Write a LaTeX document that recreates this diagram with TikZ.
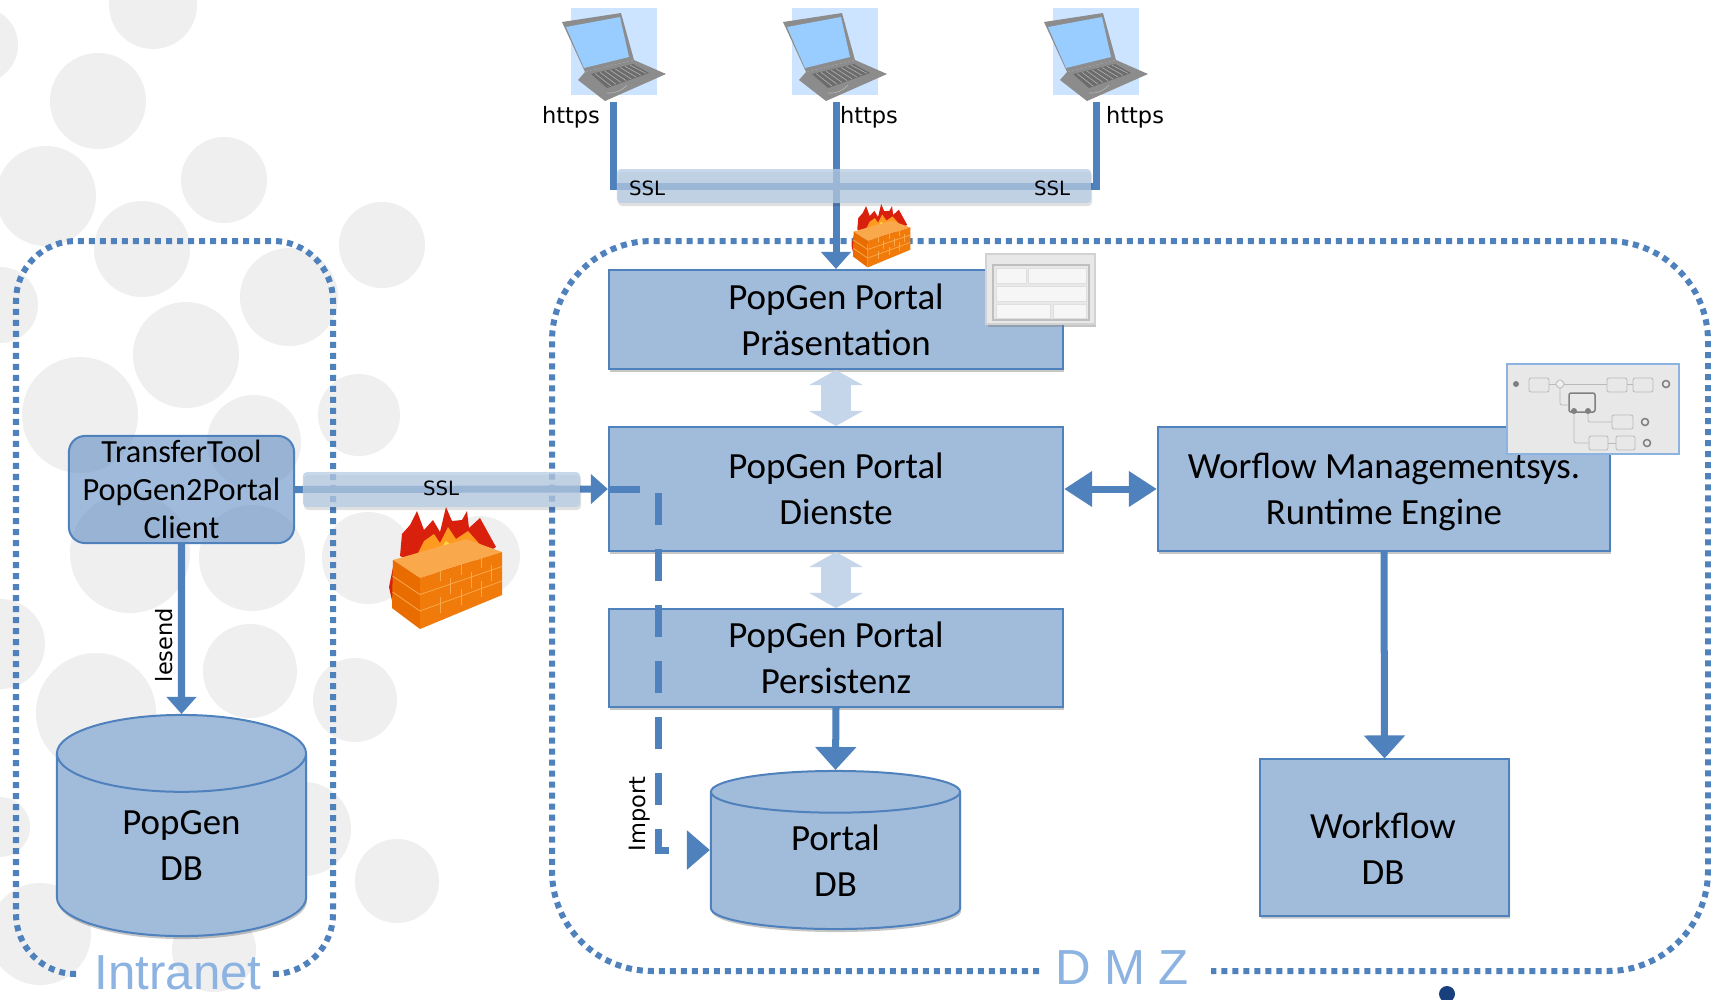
\documentclass[tikz,border=0pt]{standalone}
\usepackage{xcolor}
\usepackage{fontspec}
\setmainfont{Carlito}
\newfontfamily\tagfont{DejaVu Sans}
\newfontfamily\zonefont{Liberation Sans}
\usetikzlibrary{arrows.meta,shapes.geometric,shadows}
\definecolor{B0}{HTML}{4f81bd}
\definecolor{B1}{HTML}{a1bbdb}
\definecolor{B2}{HTML}{5f8cc3}
\definecolor{B3}{HTML}{c5d6ea}
\definecolor{B4}{HTML}{8db3e2}
\definecolor{B5}{HTML}{b8cde6}
\definecolor{D0}{HTML}{17407d}
\definecolor{G0}{HTML}{efefef}
\definecolor{G1}{HTML}{7f7f7f}
\definecolor{G2}{HTML}{e8e8e8}
\definecolor{L0}{HTML}{cce4ff}
\definecolor{L1}{HTML}{99ccff}
\definecolor{F0}{HTML}{f07a0a}
\definecolor{F1}{HTML}{e86c00}
\definecolor{F2}{HTML}{f9a94c}
\definecolor{F3}{HTML}{d8200c}
\definecolor{F4}{HTML}{ff9a20}
\definecolor{F5}{HTML}{ffd840}
\tikzset{
  softshadow/.style={drop shadow={shadow xshift=.01cm,shadow yshift=-.03cm,fill=black,opacity=.22}},
  layerbox/.style={draw=B0,line width=.02cm,fill=B1,minimum width=4.54cm,align=center,inner sep=0pt,font=\fontsize{10.5}{13}\selectfont,softshadow},
  clientbox/.style={draw=B0,line width=.02cm,fill=B2,fill opacity=.6,text opacity=1,rounded corners=.16cm,minimum width=2.25cm,minimum height=1.07cm,align=center,inner sep=0pt,font=\fontsize{9.2}{10.8}\selectfont},
  dbcyl/.style={draw=B0,line width=.02cm,fill=B1,shape=cylinder,shape border rotate=90,anchor=shape center,minimum width=2.49cm,align=center,inner sep=0pt,font=\fontsize{10.5}{13}\selectfont,softshadow},
  zone/.style={draw=B0,line width=.06cm,dash pattern=on .06cm off .05cm},
  conn/.style={draw=B0,line width=.07cm},
  connarr/.style={conn,-{Triangle[length=.23cm,width=.4cm]}},
  connarrsmall/.style={conn,-{Triangle[length=.17cm,width=.29cm]}},
  connboth/.style={conn,{Triangle[length=.28cm,width=.34cm]}-{Triangle[length=.28cm,width=.34cm]}},
  softarr/.style={draw=B3,line width=.3cm,{Triangle[length=.15cm,width=.53cm]}-{Triangle[length=.15cm,width=.53cm]}},
  sslband/.style={fill=B5,fill opacity=.76,rounded corners=.04cm,inner sep=0pt,drop shadow={shadow xshift=.01cm,shadow yshift=-.03cm,fill=black,opacity=.12}},
  tagtext/.style={font=\tagfont\fontsize{6.4}{8}\selectfont},
  ssltext/.style={font=\tagfont\fontsize{5.6}{7}\selectfont},
  zonetext/.style={text=B4,font=\zonefont\fontsize{14}{16}\selectfont},
  dbtext/.style={align=center,font=\fontsize{10.5}{13}\selectfont},
  flowline/.style={draw=G1!55,line width=.008cm,rounded corners=.02cm},
  pics/laptop/.style={code={
    \fill[L0] (0,0) rectangle (86,87);
    \fill[G1!90] (-9,14) -- (50,5) -- (63,52) -- (14,64) -- cycle;
    \fill[L1] (-5,19) -- (49,9) -- (58,49) -- (13,60) -- cycle;
    \fill[G1!90] (14,64) -- (63,52) -- (95,66) -- (34,93) -- (7,72) -- cycle;
    \fill[G1!85!black] (20,66) -- (62,56) -- (78,65) -- (36,80) -- cycle;
    \foreach \k in {0,...,7} {\draw[G1!60,line width=.006cm] (24+5*\k,65.5-1.2*\k) -- (40+5*\k,78-1.8*\k);}
    \draw[G1!55,line width=.006cm] (36,85) to[bend right=25] (56,77);
  }},
  pics/firewall/.style={code={
    \fill[F3] (12,49) -- (14,27) -- (22,18) -- (29,4) -- (36,23) -- (45,13) -- (52,25) -- (58,0) -- (64,14) -- (74,13) -- (79,4) -- (81,21) -- (92,11) -- (108,40) -- (60,70) -- cycle;
    \fill[F4] (28,50) -- (36,34) -- (46,27) -- (52,36) -- (60,20) -- (68,32) -- (80,24) -- (96,42) -- (50,62) -- cycle;
    \fill[F5] (50,46) -- (58,34) -- (66,40) -- (76,38) -- (82,44) -- (54,56) -- cycle;
    \fill[F3] (5,60) -- (1,80) -- (5,98) -- cycle;
    \fill[F2] (5,53) -- (78,32) -- (114,45) -- (32,71) -- cycle;
    \fill[F1] (5,53) -- (32,71) -- (32,122) -- (4,101) -- cycle;
    \fill[F0] (32,71) -- (114,45) -- (114,88) -- (32,122) -- cycle;
    \foreach \k in {1,2} {\draw[F2,line width=.008cm] (32,71+16.5*\k) -- (114,45+14.5*\k); \draw[F2,line width=.008cm] (4.5,53+16*\k) -- (32,71+16.5*\k);}
    \foreach \k in {1,2,3} {\draw[F2,line width=.008cm] (32+20.5*\k,64.5-6.5*\k) -- ++(0,16); \draw[F2,line width=.008cm] (42+20.5*\k,77.5-6.5*\k) -- ++(0,16); \draw[F2,line width=.008cm] (32+20.5*\k,98-8*\k) -- ++(0,16);}
  }}
}
\begin{document}
\begin{tikzpicture}[x=.01cm,y=-.01cm]%
\useasboundingbox (0,0) rectangle (1711,999);%
\clip (0,0) rectangle (1711,999);%
\fill[white] (0,0) rectangle (1711,999);%
\foreach \cx/\cy/\cr in {153/5/44,-20/45/38,98/101/48,46/196/50,224/180/43,142/249/48,382/245/43,289/297/49,186/355/53,0/305/38,80/415/58,254/442/47,359/415/41,130/553/60,252/558/53,368/558/46,480/556/40,0/644/45,96/713/60,250/671/47,355/700/42,203/768/53,304/829/47,143/871/53,397/881/42,40/934/51,214/950/42,0/827/30}%
  {\fill[G0] (\cx,\cy) circle (\cr);}%
\draw[zone,rounded corners=.6cm] (76,974) -| (16,241) -| (333,974) -- (278,974);%
\draw[zone,rounded corners=1cm] (1039,971) -| (552,241) -| (1708,971) -- (1211,971);%
\node[zonetext] (intranetlabel) at (178,973) {Intranet};%
\node[zonetext] (dmzlabel) at (1122,968) {D M Z};%
\fill[D0] (1447,994) circle (8);%
\pic at (571,8) {laptop};%
\pic at (792,8) {laptop};%
\pic at (1053,8) {laptop};%
\coordinate (portA) at (613,102);%
\coordinate (portB) at (836,102);%
\coordinate (portC) at (1096,102);%
\coordinate (busB) at (836,186);%
\node[tagtext] (httpsA) at (571,117) {https};%
\node[tagtext] (httpsB) at (869,117) {https};%
\node[tagtext] (httpsC) at (1135,117) {https};%
\node[layerbox,minimum height=.99cm] (praes) at (836,319.5) {PopGen Portal\\Pr\"asentation};%
\node[layerbox,minimum height=1.24cm] (dienste) at (836,489) {PopGen Portal\\Dienste};%
\node[layerbox,minimum height=.98cm] (persist) at (836,658) {PopGen Portal\\Persistenz};%
\node[layerbox,minimum width=4.52cm,minimum height=1.24cm,text depth=0pt] (engine) at (1384,489) {Worflow Managementsys.\\Runtime Engine};%
\node[clientbox] (client) at (181.5,489.5) {TransferTool\\PopGen2Portal\\Client};%
\node[dbcyl,aspect=.65,minimum height=2.21cm] (popgendb) at (181.5,825.5) {PopGen\\DB};%
\node[dbcyl,aspect=.47,minimum height=1.58cm] (portaldb) at (835.5,850) {Portal\\DB};%
\node[dbcyl,aspect=.47,minimum height=1.56cm] (workflowdb) at (1384.5,837.5) {};%
\node[dbtext] (workflowtext) at (1383,849) {Workflow\\DB};%
\draw[conn] (portA) |- (busB) -| (portC);%
\draw[connarrsmall] (portB) -- (praes.north);%
\node[sslband,minimum width=4.74cm,minimum height=.34cm] (busband) at (854,186) {};%
\node[ssltext] (sslA) at (647,188) {SSL};%
\node[ssltext] (sslB) at (1052,188) {SSL};%
\draw[softarr] (praes.south) -- (dienste.north);%
\draw[softarr] (dienste.south) -- (persist.north);%
\draw[connboth] (dienste.east) -- (engine.west);%
\draw[connarr] (persist.south) -- (portaldb.north);%
\draw[connarr] (engine.south) -- (workflowdb.north);%
\draw[connarrsmall] (client.south) -- (popgendb.north);%
\node[tagtext,rotate=90] (lesendtext) at (164,645) {lesend};%
\coordinate (importstart) at (640,489);%
\draw[connarrsmall] (client.east) -- (dienste.west);%
\draw[conn] (dienste.west) -- (importstart);%
\node[sslband,minimum width=2.77cm,minimum height=.35cm] (clientband) at (441.5,489.5) {};%
\node[ssltext] (sslC) at (441,488) {SSL};%
\coordinate (dashstart) at (658,493);%
\coordinate (importend) at (portaldb.west |- portaldb.shape center);%
\draw[conn,dash pattern=on .32cm off .24cm,-{Triangle[length=.23cm,width=.38cm]}] (dashstart) |- (importend);%
\node[tagtext,rotate=90] (importtext) at (640,814) {Import};%
\pic[scale=.52] at (851,204) {firewall};%
\pic at (388,507) {firewall};%
\fill[G1,opacity=.45] (988,257) rectangle (1096,327);%
\draw[fill=G2,draw=G1!35,line width=.02cm] (986,254) rectangle (1095,324);%
\draw[fill=G2,draw=G1!50,line width=.012cm] (993,265) rectangle (1089,320);%
\foreach \ax/\ay/\bx/\by in {996/268/1026/283,1028/268/1086/283,996/286/1086/301,996/304/1050/318,1053/304/1086/318}%
  {\draw[G1!25,fill=G2!70!black!10,line width=.008cm] (\ax,\ay) rectangle (\bx,\by);}%
\draw[fill=G2,draw=B4,line width=.025cm] (1507,364) rectangle (1679,454);%
\draw[flowline] (1549,384) -- (1607,384);%
\draw[flowline] (1560,388) |- (1569,405);%
\draw[flowline] (1627,384) -- (1633,384);%
\draw[flowline] (1588,411) |- (1612,422);%
\draw[flowline] (1574,411) |- (1589,443);%
\draw[flowline] (1608,443) -- (1616,443);%
\foreach \ax/\ay/\bx/\by in {1529/378/1549/392,1607/378/1627/392,1633/378/1653/392,1612/415/1633/429,1589/436/1608/450,1616/436/1635/450}%
  {\draw[flowline,fill=G2] (\ax,\ay) rectangle (\bx,\by);}%
\draw[G1,line width=.015cm,rounded corners=.02cm] (1569,393) rectangle (1595,412);%
\fill[G1] (1516,384) circle (3);%
\draw[flowline,fill=G0] (1560,379) -- (1565,384) -- (1560,389) -- (1555,384) -- cycle;%
\foreach \ex/\ey in {1666/384,1645/422,1647/443}%
  {\draw[G1,line width=.015cm] (\ex,\ey) circle (3.5);}%
\fill[G1] (1574,411) circle (3);%
\fill[G1] (1588,411) circle (3);%
\end{tikzpicture}
\end{document}
